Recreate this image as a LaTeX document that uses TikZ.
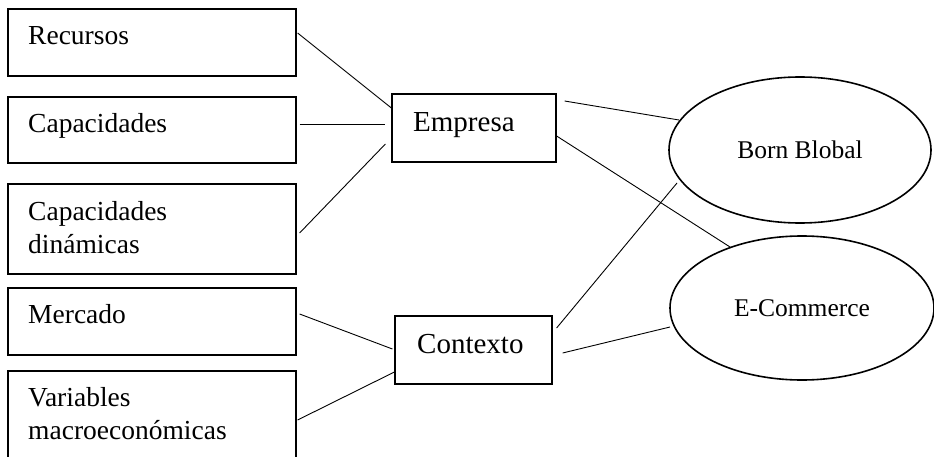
\documentclass[tikz,border=0pt]{standalone}
\usepackage{fontspec}
\setmainfont{Liberation Serif}
\usetikzlibrary{calc,shapes.geometric}
\begin{document}
\begin{tikzpicture}[x=1pt,y=-1pt,
  box/.style={draw,line width=1.2pt,inner sep=0pt},
  oval/.style={draw,ellipse,line width=1.6pt,inner sep=0pt,
    font=\fontsize{25.5}{30}\selectfont},
  lefttxt/.style={anchor=base west,inner sep=0pt,align=left,
    font=\fontsize{27.5}{33}\selectfont},
  midtxt/.style={anchor=base west,inner sep=0pt,
    font=\fontsize{29}{34}\selectfont},
  link/.style={line width=0.9pt}]
\clip (0,0) rectangle (934,457);
\fill[white] (0,0) rectangle (934,457);

% input boxes
\node[box,minimum width=288pt,minimum height=67pt]  (rec) at (152,42.5) {};
\node[box,minimum width=288pt,minimum height=66pt]  (cap) at (152,130) {};
\node[box,minimum width=288pt,minimum height=90pt]  (din) at (152,229) {};
\node[box,minimum width=288pt,minimum height=67pt]  (mer) at (152,321.5) {};
\node[box,minimum width=288pt,minimum height=110pt] (var) at (152,426) {};

% box labels (two-line labels sit on the baseline of their last line)
\node[lefttxt] (rec-t) at (28,45)  {Recursos};
\node[lefttxt] (cap-t) at (28,133) {Capacidades};
\node[lefttxt] (din-t) at (28,253) {Capacidades\\dinámicas};
\node[lefttxt] (mer-t) at (28,323) {Mercado};
\node[lefttxt] (var-t) at (28,439) {Variables\\macroeconómicas};

% intermediate boxes
\node[box,minimum width=164pt,minimum height=68pt] (emp) at (474,128) {};
\node[box,minimum width=157pt,minimum height=68pt] (con) at (473.5,350) {};
\node[midtxt] (emp-t) at (413,132) {Empresa};
\node[midtxt] (con-t) at (417,353) {Contexto};

% outcomes
\node[oval,minimum width=262pt,minimum height=146pt] (born) at (800,150) {Born Blobal};
\node[oval,minimum width=264pt,minimum height=144pt] (eco)  at (802,308) {E-Commerce};

% connectors
\draw[link] ($(rec.east)+(1,-9.5)$) -- ($(emp.west)+(0,-20)$);
\draw[link] ($(cap.east)+(3,-6)$)   -- ($(emp.west)+(-6,-4)$);
\draw[link] ($(din.east)+(3,4)$)    -- ($(emp.west)+(-6,16)$);
\draw[link] ($(mer.east)+(3,-7.5)$) -- ($(con.west)+(-2,-1)$);
\draw[link] ($(var.east)+(1,-6)$)   -- ($(con.west)+(0,22)$);
\draw[link] ($(emp.east)+(8,-27)$)  -- ($(born.center)+(-121,-30)$);
\draw[link] ($(emp.east)+(0,8)$)    -- ($(eco.center)+(-72,-61)$);
\draw[link] ($(con.east)+(4,-22)$)  -- ($(born.center)+(-123,33)$);
\draw[link] ($(con.east)+(10,3)$)   -- ($(eco.center)+(-132,19)$);
\end{tikzpicture}
\end{document}
